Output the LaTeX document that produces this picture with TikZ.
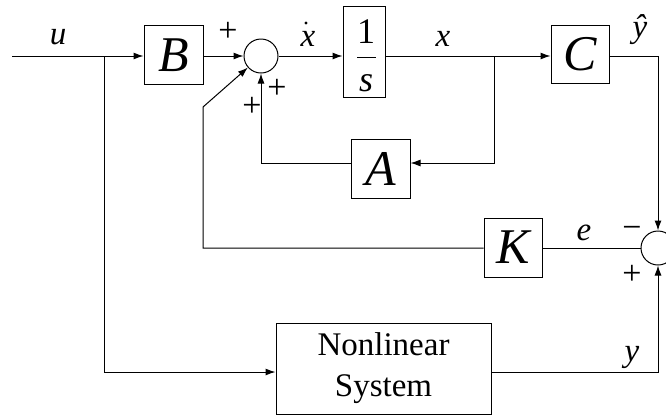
\documentclass[tikz,border=0pt]{standalone}
\usepackage{fontspec}
\setmainfont{Liberation Serif}
\usetikzlibrary{arrows.meta}
\newcommand\myfs[2]{\fontsize{#1}{#2}\selectfont}
\begin{document}
\begin{tikzpicture}[x=1pt,y=-1pt,
  line width=1pt,
  blk/.style={draw, minimum width=59pt, minimum height=59pt, inner sep=0pt, font=\myfs{50}{54}\itshape},
  sumc/.style={draw, circle, minimum size=34pt, inner sep=0pt},
  arr/.style={-{Latex[length=10pt,width=7pt]}},
  lbl/.style={font=\myfs{33}{33}\itshape, inner sep=0pt},
  sgn/.style={font=\myfs{34}{34}, inner sep=0pt}]
\useasboundingbox (0,0) rectangle (666,416);
\clip (0,0) rectangle (666,416);
% blocks
\node[blk] (B) at (173.5,55) {B};
\node[sumc] (s1) at (261,56) {};
\node[draw, minimum width=42pt, minimum height=91pt, inner sep=0pt] (I) at (364,51.5) {};
\node[font=\myfs{36}{36}, inner sep=0pt] (one) at (366,32) {1};
\node[font=\myfs{36}{36}\itshape, inner sep=0pt] (sv) at (366,83) {s};
\draw (357,57) -- (376,57);
\node[blk, minimum width=58pt, minimum height=58pt] (C) at (580,54) {C};
\node[blk] (A) at (380.5,168.5) {A};
\node[blk, minimum width=58pt] (K) at (513,247.5) {K};
\node[sumc] (s2) at (658,248) {};
\node[draw, minimum width=215pt, minimum height=91pt, align=center, font=\myfs{33}{41}] (N) at (383.5,368.5) {Nonlinear\\System};
% coordinates
\coordinate (in) at (12,56);
\coordinate (b1) at (104,56);
\coordinate (b2) at (494,56);
\coordinate (ta) at (494,163);
\coordinate (kc) at (203,248);
\coordinate (kd) at (203,107);
\coordinate (nb) at (104,372);
% connectors
\draw[arr] (in) -- (in -| B.west);
\draw[arr] (B.east |- s1) -- (s1.west);
\draw[arr] (s1.east) -- (s1 -| I.west);
\draw[arr] (s1 -| I.east) -- (s1 -| C.west);
\draw[arr] (b2) -- (ta) -- (ta -| A.east);
\draw[arr] (A.west |- ta) -| (s1.south);
\draw[arr] (s1 -| C.east) -| (s2.north);
\draw (s2.west) -- (K.east |- s2);
\draw[arr] (K.west |- s2) -- (kc) -- (kd) -- (s1);
\draw[arr] (b1) -- (nb) -- (nb -| N.west);
\draw[arr] (nb -| N.east) -| (s2.south);
% labels
\node[lbl] (lu) at (58,37) {u};
\node[sgn] (p1) at (228,32) {+};
\node[lbl] (xd) at (308,39) {x};
\fill (306,23) circle (1.7);
\node[lbl] (lx) at (443,39) {x};
\node[lbl] (lyh) at (640,30) {ŷ};
\node[sgn] (p2) at (277,89) {+};
\node[sgn] (p3) at (252,107) {+};
\node[lbl] (le) at (584,233) {e};
\node[sgn] (m1) at (632,232) {−};
\node[sgn] (p4) at (632,275) {+};
\node[lbl] (ly) at (632,357) {y};
\end{tikzpicture}
\end{document}
